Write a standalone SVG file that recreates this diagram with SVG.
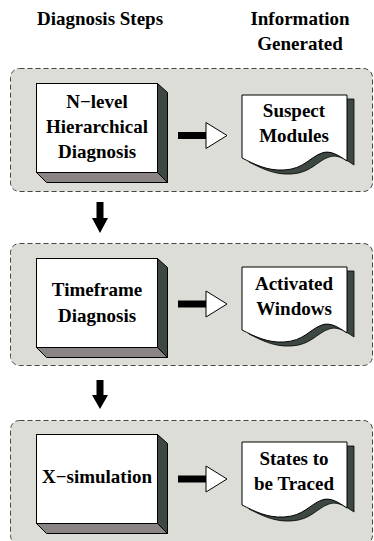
<svg xmlns="http://www.w3.org/2000/svg" width="374" height="541" viewBox="0 0 374 541">
<defs>
<style>
text{font-family:'Liberation Serif','Times New Roman','DejaVu Serif',serif;font-weight:bold;font-size:19px;fill:#000;text-anchor:middle}
.panel{fill:#dcddd6;stroke:#444;stroke-width:1;stroke-dasharray:5,3}
.front{fill:#fff;stroke:#000;stroke-width:1}
.side{fill:#3e4843;stroke:#000;stroke-width:1}
.bottom{fill:#8a8485;stroke:#000;stroke-width:1}
.dshadow{fill:#3e4843;stroke:#000;stroke-width:0.8}
.bar{fill:#000}
.tri{fill:#fff;stroke:#000;stroke-width:1}
</style>
<g id="box3d">
<polygon class="side" points="121,0 131,9 131,99 121,89"/>
<polygon class="bottom" points="0,89 121,89 131,99 10,99"/>
<rect class="front" x="0" y="0" width="121" height="89"/>
</g>
<path id="docshape" d="M0,0 H105 V66 C96,60 88,55 80,58 C68,62 62,74 42,75 C25,76 12,69 0,63 Z"/>
<g id="rarrow">
<rect class="bar" x="0" y="-3.5" width="28" height="7"/>
<polygon class="tri" points="28,-13 49,0 28,13"/>
</g>
</defs>

<g id="headers" font-family="Liberation Serif, serif" font-weight="bold">
<text x="100" y="25">Diagnosis Steps</text>
<text x="300" y="25">Information</text>
<text x="300" y="50">Generated</text>
</g>

<g id="panel1">
<rect class="panel" x="10.5" y="68.5" width="362" height="123" rx="9"/>
</g>
<g id="panel2">
<rect class="panel" x="10.5" y="243.5" width="362" height="122" rx="9"/>
</g>
<g id="panel3">
<rect class="panel" x="10.5" y="420.5" width="362" height="124" rx="9"/>
</g>

<g id="step1">
<use href="#box3d" x="36.5" y="83.5"/>
<text x="97" y="108">N−level</text>
<text x="97" y="133">Hierarchical</text>
<text x="97" y="158">Diagnosis</text>
</g>
<g id="info1">
<use href="#docshape" x="249" y="99" class="dshadow"/>
<use href="#docshape" x="242" y="95" class="front"/>
<text x="294" y="117">Suspect</text>
<text x="294" y="142">Modules</text>
</g>

<g id="step2">
<use href="#box3d" x="36.5" y="258.5"/>
<text x="97" y="296">Timeframe</text>
<text x="97" y="322">Diagnosis</text>
</g>
<g id="info2">
<use href="#docshape" x="249" y="271" class="dshadow"/>
<use href="#docshape" x="242" y="267" class="front"/>
<text x="294" y="290">Activated</text>
<text x="294" y="315">Windows</text>
</g>

<g id="step3">
<use href="#box3d" x="36.5" y="434.5"/>
<text x="97" y="483">X−simulation</text>
</g>
<g id="info3">
<use href="#docshape" x="249" y="446" class="dshadow"/>
<use href="#docshape" x="242" y="442" class="front"/>
<text x="294" y="465">States to</text>
<text x="294" y="490">be Traced</text>
</g>

<g id="connectors">
<use href="#rarrow" x="178" y="135.5"/>
<use href="#rarrow" x="178" y="304"/>
<use href="#rarrow" x="178" y="479"/>
<polygon class="bar" points="96.5,202 103.5,202 103.5,218 108,218 100,233 92,218 96.5,218"/>
<polygon class="bar" points="96.5,380 103.5,380 103.5,395 108,395 100,409 92,395 96.5,395"/>
</g>
</svg>
